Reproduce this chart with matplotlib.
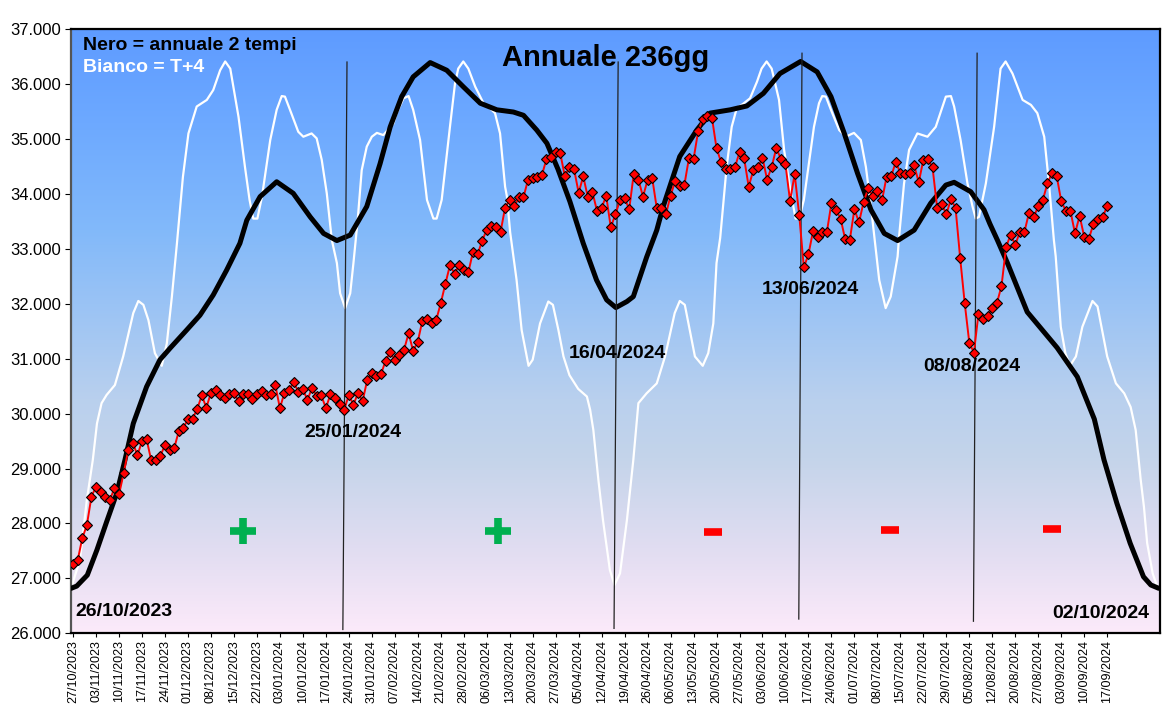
import numpy as np
import matplotlib
matplotlib.use('Agg')
import matplotlib.pyplot as plt
from matplotlib.colors import LinearSegmentedColormap

plt.rcParams['font.family'] = ['Liberation Sans', 'DejaVu Sans']

# tick labels: one every 5 trading days, x axis is the trading-day index
tick_labels = ['27/10/2023', '03/11/2023', '10/11/2023', '17/11/2023', '24/11/2023',
               '01/12/2023', '08/12/2023', '15/12/2023', '22/12/2023', '03/01/2024',
               '10/01/2024', '17/01/2024', '24/01/2024', '31/01/2024', '07/02/2024',
               '14/02/2024', '21/02/2024', '28/02/2024', '06/03/2024', '13/03/2024',
               '20/03/2024', '27/03/2024', '05/04/2024', '12/04/2024', '19/04/2024',
               '26/04/2024', '06/05/2024', '13/05/2024', '20/05/2024', '27/05/2024',
               '03/06/2024', '10/06/2024', '17/06/2024', '24/06/2024', '01/07/2024',
               '08/07/2024', '15/07/2024', '22/07/2024', '29/07/2024', '05/08/2024',
               '12/08/2024', '20/08/2024', '27/08/2024', '03/09/2024', '10/09/2024',
               '17/09/2024']

# daily closes (red diamonds)
prices = [27.27, 27.33, 27.73, 27.97, 28.49, 28.67, 28.58, 28.49, 28.43, 28.64, 28.53, 28.91,
          29.34, 29.47, 29.24, 29.50, 29.53, 29.15, 29.15, 29.23, 29.43, 29.33, 29.37, 29.68,
          29.73, 29.91, 29.91, 30.08, 30.33, 30.11, 30.38, 30.43, 30.33, 30.28, 30.35, 30.37,
          30.23, 30.35, 30.35, 30.26, 30.35, 30.41, 30.33, 30.35, 30.52, 30.10, 30.38, 30.43,
          30.57, 30.40, 30.44, 30.25, 30.47, 30.32, 30.33, 30.10, 30.35, 30.28, 30.17, 30.07,
          30.34, 30.16, 30.38, 30.23, 30.61, 30.73, 30.68, 30.72, 30.96, 31.12, 30.98, 31.07,
          31.16, 31.46, 31.14, 31.31, 31.69, 31.73, 31.65, 31.70, 32.01, 32.36, 32.70, 32.55,
          32.70, 32.61, 32.57, 32.94, 32.90, 33.14, 33.35, 33.41, 33.40, 33.30, 33.75, 33.89,
          33.77, 33.94, 33.94, 34.26, 34.28, 34.31, 34.34, 34.63, 34.68, 34.76, 34.74, 34.32,
          34.49, 34.45, 34.02, 34.32, 33.94, 34.03, 33.69, 33.75, 33.96, 33.39, 33.63, 33.88,
          33.92, 33.72, 34.37, 34.26, 33.95, 34.25, 34.29, 33.74, 33.74, 33.63, 33.97, 34.23,
          34.14, 34.16, 34.65, 34.63, 35.14, 35.36, 35.42, 35.39, 34.83, 34.58, 34.45, 34.46,
          34.48, 34.76, 34.65, 34.13, 34.43, 34.48, 34.66, 34.26, 34.49, 34.83, 34.64, 34.54,
          33.87, 34.36, 33.61, 32.66, 32.90, 33.32, 33.22, 33.31, 33.30, 33.83, 33.71, 33.55,
          33.17, 33.16, 33.72, 33.48, 33.85, 34.10, 33.97, 34.05, 33.88, 34.31, 34.32, 34.58,
          34.38, 34.36, 34.38, 34.52, 34.21, 34.62, 34.63, 34.48, 33.75, 33.81, 33.63, 33.90,
          33.75, 32.84, 32.01, 31.29, 31.11, 31.82, 31.73, 31.78, 31.92, 32.01, 32.32, 33.03,
          33.26, 33.07, 33.31, 33.31, 33.66, 33.58, 33.77, 33.89, 34.19, 34.38, 34.33, 33.87,
          33.69, 33.69, 33.28, 33.60, 33.22, 33.18, 33.45, 33.55, 33.57, 33.78]

# black curve: "annuale 2 tempi"
nero_x = [-0.4, 0.8, 3.1, 5.2, 7.3, 9.5, 11.3, 13.1, 16.0, 18.9, 21.1, 24.7, 27.6, 30.5,
          33.4, 36.3, 37.8, 40.7, 44.3, 47.9, 51.6, 54.5, 57.4, 60.3, 63.9, 66.8, 69.0,
          71.5, 74.0, 77.7, 81.3, 84.9, 88.6, 92.2, 95.8, 98.0, 100.9, 103.1, 105.5,
          108.1, 111.0, 113.9, 116.1, 118.1, 120.5, 121.9, 124.8, 127.0, 128.4, 132.0,
          135.7, 138.6, 143.0, 146.6, 150.2, 153.8, 158.3, 161.9, 164.9, 167.8, 170.7,
          173.6, 176.5, 179.4, 183.0, 186.6, 189.9, 191.7, 195.3, 198.2, 199.5, 201.1,
          203.3, 207.6, 214.1, 218.5, 222.2, 224.3, 227.1, 230.0, 232.9, 234.5, 236.2]
nero_y = [26.82, 26.86, 27.06, 27.52, 28.03, 28.55, 29.16, 29.82, 30.49, 30.98, 31.19, 31.52,
          31.79, 32.16, 32.61, 33.10, 33.52, 33.95, 34.22, 34.01, 33.58, 33.28, 33.15, 33.25,
          33.77, 34.55, 35.22, 35.77, 36.13, 36.39, 36.25, 35.95, 35.65, 35.53, 35.49, 35.43,
          35.16, 34.92, 34.45, 33.86, 33.10, 32.43, 32.07, 31.93, 32.04, 32.13, 32.85, 33.34,
          33.77, 34.68, 35.16, 35.47, 35.53, 35.60, 35.83, 36.19, 36.41, 36.22, 35.77, 35.10,
          34.37, 33.71, 33.28, 33.15, 33.34, 33.83, 34.16, 34.21, 34.04, 33.71, 33.45, 33.16,
          32.74, 31.85, 31.20, 30.67, 29.90, 29.16, 28.37, 27.64, 27.03, 26.88, 26.82]

# white curve: "T+4"
bianco_x = [-0.1, 1.5, 3.0, 4.3, 5.2, 6.2, 7.3, 9.1, 10.9, 13.1, 14.2, 15.3, 16.4, 17.8,
            19.3, 20.4, 21.5, 22.6, 23.9, 25.1, 26.9, 29.1, 30.5, 32.0, 33.1, 34.2, 36.0,
            37.4, 38.4, 39.2, 40.1, 41.1, 42.9, 44.3, 45.4, 46.1, 47.2, 49.0, 50.1, 51.9,
            53.0, 54.1, 55.2, 56.3, 57.4, 58.1, 59.2, 60.3, 61.0, 61.9, 62.8, 63.9, 65.0,
            66.1, 67.5, 69.7, 70.4, 71.9, 73.0, 74.0, 75.5, 77.0, 78.4, 79.1, 80.2, 82.0,
            83.1, 83.8, 84.9, 86.0, 87.5, 89.3, 90.7, 91.8, 92.9, 94.0, 94.4, 95.1, 96.5,
            97.6, 99.1, 100.0, 101.6, 103.4, 104.4, 105.6, 106.7, 108.0, 109.9, 111.8,
            112.5, 113.2, 114.3, 115.3, 116.8, 117.8, 119.0, 120.5, 121.9, 123.0, 124.8,
            127.0, 128.8, 130.9, 132.0, 133.1, 135.3, 137.0, 138.2, 139.3, 140.0, 140.8,
            142.2, 143.3, 144.4, 145.8, 147.3, 148.8, 149.8, 150.9, 152.0, 153.6, 154.7,
            156.2, 157.2, 158.0, 159.0, 161.2, 162.3, 163.0, 163.8, 164.9, 166.7, 168.1,
            169.9, 171.4, 172.5, 173.6, 174.5, 175.4, 176.8, 177.9, 179.4, 179.7, 180.8,
            181.9, 183.7, 185.9, 187.7, 189.9, 191.0, 191.7, 193.1, 194.6, 195.7, 196.4,
            197.1, 198.6, 200.4, 201.8, 202.9, 204.4, 206.6, 208.4, 209.8, 211.3, 212.4,
            213.4, 213.8, 214.9, 215.9, 216.9, 218.2, 219.6, 221.8, 222.9, 225.0, 226.9,
            228.7, 230.1, 231.2, 232.3, 233.0, 233.7, 234.9, 236.0]
bianco_y = [26.91, 27.34, 28.43, 29.16, 29.82, 30.19, 30.34, 30.52, 31.04, 31.83, 32.05,
            31.98, 31.70, 31.10, 30.87, 31.28, 32.13, 33.10, 34.31, 35.10, 35.59, 35.71,
            35.89, 36.25, 36.41, 36.28, 35.40, 34.49, 33.89, 33.55, 33.55, 33.95, 34.98,
            35.53, 35.78, 35.77, 35.53, 35.13, 35.04, 35.10, 35.01, 34.62, 34.01, 33.16,
            32.74, 32.19, 31.92, 32.19, 32.74, 33.50, 34.43, 34.86, 35.04, 35.11, 35.07,
            35.28, 35.47, 35.74, 35.78, 35.53, 34.98, 33.89, 33.55, 33.55, 33.89, 35.22,
            36.01, 36.28, 36.41, 36.28, 35.95, 35.65, 35.56, 35.47, 35.10, 34.13, 33.95,
            33.30, 32.43, 31.52, 30.87, 30.98, 31.64, 32.04, 31.98, 31.52, 31.04, 30.70,
            30.45, 30.31, 30.07, 29.70, 28.79, 28.06, 27.15, 26.88, 27.09, 28.06, 29.16,
            30.19, 30.37, 30.55, 31.04, 31.83, 32.05, 31.98, 31.04, 30.87, 31.10, 31.64,
            32.74, 33.20, 34.49, 35.22, 35.56, 35.64, 35.74, 36.04, 36.28, 36.41, 36.28,
            35.71, 34.80, 34.01, 33.55, 33.55, 33.89, 35.22, 35.65, 35.78, 35.77, 35.53,
            35.16, 35.04, 35.11, 34.98, 34.49, 33.77, 33.10, 32.43, 31.92, 32.13, 32.86,
            33.20, 34.19, 34.80, 35.10, 35.04, 35.22, 35.77, 35.78, 35.59, 34.98, 34.19,
            33.77, 33.55, 33.58, 34.19, 35.22, 36.28, 36.41, 36.19, 35.71, 35.62, 35.47,
            35.04, 34.13, 33.16, 32.86, 31.58, 31.10, 30.87, 31.04, 31.58, 32.05, 31.95,
            31.04, 30.55, 30.37, 30.12, 29.70, 28.79, 28.30, 27.64, 27.09, 26.82]

# cycle lows/highs marked with thin vertical lines (top x, top y, bottom x, bottom y)
cycle_labels = ['25/01/2024', '16/04/2024', '13/06/2024', '08/08/2024']
cycle_top_x = [59.6, 118.6, 158.6, 196.7]
cycle_top_y = [36.40, 36.40, 36.56, 36.56]
cycle_bot_x = [58.7, 117.7, 157.9, 195.9]
cycle_bot_y = [26.07, 26.09, 26.26, 26.22]
cycle_lab_x = [60.9, 118.4, 160.4, 195.6]
cycle_lab_y = [29.65, 31.10, 32.25, 30.85]

# +/- signs between the cycle lines
plus_x = [37.0, 92.5]
plus_y = [27.86, 27.86]
minus_x = [139.3, 177.8, 213.0]
minus_y = [27.84, 27.88, 27.90]

fig = plt.figure(figsize=(11.64, 7.07), dpi=100)
ax = fig.add_axes([0.061, 0.1042, 0.9356, 0.8547])
xmin, xmax = -0.45, 236.5
ax.set_xlim(xmin, xmax)
ax.set_ylim(26, 37)

# background gradient blue -> pink
cmap = LinearSegmentedColormap.from_list('bg', [
    (0.0, (252/255, 234/255, 250/255)),
    (0.123, (228/255, 222/255, 242/255)),
    (0.288, (196/255, 212/255, 234/255)),
    (0.386, (185/255, 208/255, 238/255)),
    (0.667, (130/255, 185/255, 250/255)),
    (0.833, (110/255, 170/255, 255/255)),
    (1.0, (94/255, 155/255, 255/255))])
grad = np.linspace(0, 1, 256).reshape(-1, 1)
ax.imshow(grad, extent=[xmin, xmax, 26, 37], origin='lower', aspect='auto',
          cmap=cmap, zorder=0)

ax.plot(bianco_x, bianco_y, color='white', lw=1.6, zorder=2)
ax.plot(nero_x, nero_y, color='black', lw=3.6, zorder=3,
        solid_capstyle='round', solid_joinstyle='round')
ax.plot(np.arange(len(prices)), prices, color='#FF0000', lw=1.4, marker='D', ms=5.5,
        mfc='#FF0000', mec='black', mew=0.8, zorder=5)

for i in range(len(cycle_labels)):
    ax.plot([cycle_top_x[i], cycle_bot_x[i]], [cycle_top_y[i], cycle_bot_y[i]],
            color='#222222', lw=0.9, zorder=4)
    ax.text(cycle_lab_x[i], cycle_lab_y[i], cycle_labels[i], fontsize=14,
            fontweight='bold', ha='center', va='center', zorder=6)

ax.plot(plus_x, plus_y, ls='none', marker='+', ms=19, mew=5.5, color='#00B050', zorder=6)
ax.plot(minus_x, minus_y, ls='none', marker='_', ms=13, mew=5.5, color='#FF0000', zorder=6)

ax.text(11.1, 26.39, '26/10/2023', fontsize=14, fontweight='bold', ha='center', va='center')
ax.text(223.5, 26.37, '02/10/2024', fontsize=14, fontweight='bold', ha='center', va='center')
ax.text(0.011, 0.9735, 'Nero = annuale 2 tempi', transform=ax.transAxes, fontsize=14,
        fontweight='bold', ha='left', va='center')
ax.text(0.011, 0.937, 'Bianco = T+4', transform=ax.transAxes, fontsize=14,
        fontweight='bold', color='white', ha='left', va='center')
ax.text(0.491, 0.952, 'Annuale 236gg', transform=ax.transAxes, fontsize=21,
        fontweight='bold', ha='center', va='center', zorder=3)

ax.set_xticks(np.arange(0, 5 * len(tick_labels), 5))
ax.set_xticklabels(tick_labels, rotation=90, fontsize=9)
ax.set_yticks(np.arange(26, 38, 1))
ax.set_yticklabels(['%.3f' % v for v in np.arange(26, 38, 1)], fontsize=12)
ax.tick_params(axis='x', length=3, pad=2)
ax.tick_params(axis='y', length=4, pad=3)
for s in ax.spines.values():
    s.set_color('black')
    s.set_linewidth(1.6)
ax.spines['left'].set_color('#555555')

fig.savefig('out.png', dpi=100)
